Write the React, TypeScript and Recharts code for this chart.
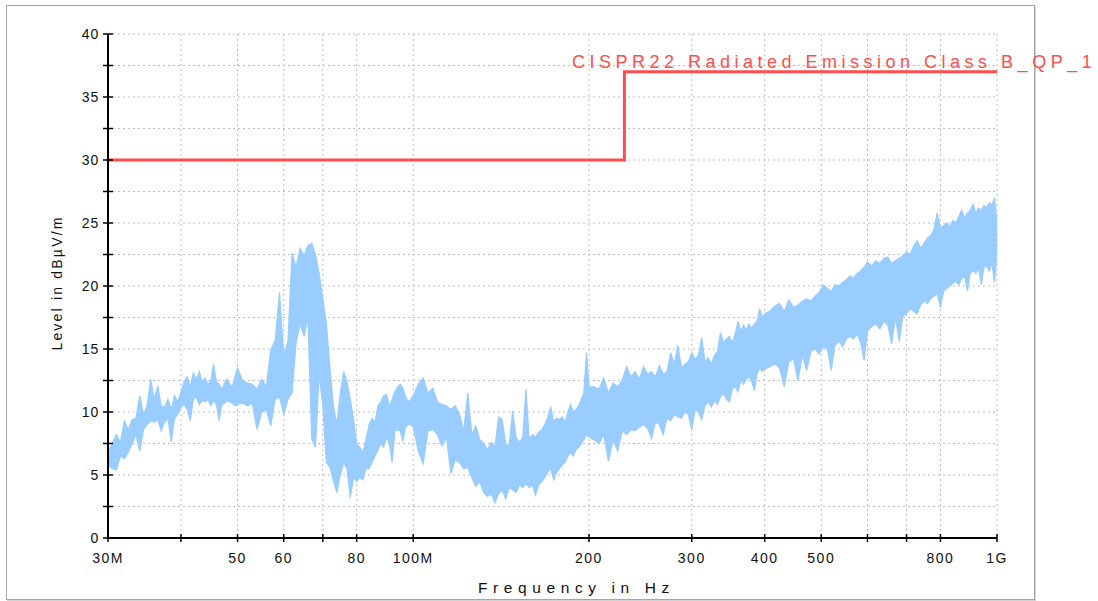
import { ComposedChart, Area, Line, XAxis, YAxis, CartesianGrid } from 'recharts'

// measured trace, split in sweep segments: frequency (MHz), lower and upper edge of the band (dBµV/m)
const freq30to50 = [30, 30.5, 31, 31.5, 32, 32.5, 33, 33.5, 34, 34.5, 35, 35.5, 36, 36.5, 37, 37.5, 38, 38.5, 39, 39.5, 40, 40.5, 41, 41.5, 42, 42.5, 43, 43.5, 44, 44.5, 45, 45.5, 46, 46.5, 47, 47.5, 48, 48.5, 49, 49.5]
const lo30to50 = [5.8, 5.5, 5.4, 6.5, 6.3, 6.8, 7.5, 8.2, 6.9, 8.6, 9.0, 9.3, 9.2, 9.4, 8.5, 9.2, 9.5, 7.6, 9.5, 9.8, 10.4, 10.6, 10.2, 9.3, 11.0, 11.2, 10.6, 10.9, 10.8, 11.0, 10.5, 10.9, 10.6, 9.3, 10.6, 10.7, 10.9, 10.8, 10.7, 10.5]
const hi30to50 = [6.8, 7.5, 8.2, 7.6, 9.3, 8.6, 9.4, 9.5, 11.3, 9.8, 10.5, 12.6, 11.0, 12.1, 10.5, 10.4, 11.0, 10.2, 11.3, 10.8, 11.6, 12.4, 12.8, 12.0, 13.1, 12.6, 13.2, 12.4, 12.7, 12.2, 12.5, 13.8, 12.4, 12.2, 11.8, 12.3, 12.6, 12.2, 12.0, 12.8]

const freq50to100 = [50, 51, 52, 53, 54, 55, 56, 57, 58, 59, 60, 61, 62, 63, 64, 65, 66, 67, 68, 69, 70, 71, 72, 73, 74, 75, 76, 77, 78, 79, 80, 81, 82, 83, 84, 85, 86, 87, 88, 89, 90, 91, 92, 93, 94, 95, 96, 97, 98, 99]
const lo50to100 = [10.6, 10.7, 10.5, 10.7, 8.6, 10.0, 10.2, 8.9, 11.0, 11.2, 9.8, 11.0, 11.5, 15.5, 17.0, 16.0, 17.5, 7.9, 7.2, 13.0, 10.5, 6.0, 5.6, 4.5, 3.6, 5.0, 6.0, 5.5, 3.2, 4.8, 4.5, 4.8, 4.6, 5.5, 5.5, 6.0, 6.5, 7.0, 7.5, 7.2, 8.0, 7.5, 6.0, 8.5, 8.6, 8.5, 7.7, 8.8, 9.0, 9.0]
const hi50to100 = [13.5, 12.5, 12.3, 12.2, 11.8, 12.6, 12.0, 14.9, 15.7, 19.5, 14.5, 15.6, 22.6, 21.5, 23.0, 22.4, 23.2, 23.4, 22.5, 21.0, 19.0, 17.0, 13.5, 10.5, 9.0, 11.5, 13.2, 12.4, 11.0, 9.5, 7.5, 7.2, 6.8, 7.8, 9.0, 9.5, 9.2, 10.5, 10.8, 11.3, 11.4, 10.5, 11.0, 11.6, 12.0, 12.2, 11.9, 11.2, 10.8, 11.0]

const freq100to200 = [100, 102, 104, 106, 108, 110, 112, 114, 116, 118, 120, 122, 124, 126, 128, 130, 132, 134, 136, 138, 140, 142, 144, 146, 148, 150, 152, 154, 156, 158, 160, 162, 164, 166, 168, 170, 172, 174, 176, 178, 180, 182, 184, 186, 188, 190, 192, 194, 196, 198]
const lo100to200 = [8.8, 6.9, 5.9, 8.5, 8.6, 8.2, 7.3, 8.0, 5.1, 6.2, 6.0, 5.5, 5.6, 4.8, 4.1, 4.5, 3.6, 3.3, 3.5, 2.8, 3.5, 3.8, 3.1, 4.0, 3.8, 3.6, 4.2, 4.0, 4.3, 4.0, 4.2, 3.4, 4.2, 4.5, 4.8, 5.2, 5.5, 4.6, 5.2, 5.5, 5.8, 6.0, 6.5, 6.8, 6.5, 7.0, 7.2, 7.5, 7.8, 8.2]
const hi100to200 = [11.3, 12.2, 12.7, 11.5, 11.9, 10.8, 10.6, 10.5, 10.2, 10.5, 9.8, 8.5, 11.5, 8.2, 8.9, 7.8, 7.5, 7.0, 7.6, 7.2, 9.6, 9.4, 7.5, 7.3, 10.1, 8.0, 7.6, 8.0, 11.8, 7.8, 8.2, 8.0, 8.4, 8.6, 9.0, 9.6, 10.4, 9.2, 9.5, 9.4, 9.6, 9.2, 10.0, 10.6, 10.0, 10.2, 10.5, 11.0, 11.5, 14.7]

const freq200to400 = [200, 204, 208, 212, 216, 220, 224, 228, 232, 236, 240, 244, 248, 252, 256, 260, 264, 268, 272, 276, 280, 284, 288, 292, 296, 300, 304, 308, 312, 316, 320, 324, 328, 332, 336, 340, 344, 348, 352, 356, 360, 364, 368, 372, 376, 380, 384, 388, 392, 396]
const lo200to400 = [8.0, 7.8, 7.5, 8.2, 6.1, 7.8, 6.9, 8.5, 8.2, 8.6, 8.5, 8.8, 9.0, 8.7, 7.9, 9.2, 9.0, 8.2, 9.5, 9.3, 9.8, 9.6, 9.5, 10.0, 9.8, 8.6, 10.2, 10.0, 9.4, 10.5, 10.8, 10.4, 10.9, 10.6, 11.2, 11.5, 11.0, 10.8, 11.8, 12.0, 11.6, 12.5, 12.2, 12.6, 12.8, 12.4, 11.7, 13.0, 13.5, 13.2]
const hi200to400 = [12.0, 12.0, 11.8, 12.7, 11.5, 12.3, 12.0, 12.5, 13.6, 12.8, 13.2, 12.6, 13.6, 13.0, 13.2, 12.8, 13.7, 13.0, 13.2, 14.7, 13.8, 15.3, 13.5, 13.8, 14.0, 14.7, 14.2, 14.5, 15.9, 14.0, 14.3, 13.8, 14.5, 14.8, 16.3, 15.5, 15.8, 16.0, 15.5, 16.2, 17.2, 16.4, 16.9, 16.5, 17.0, 16.6, 17.0, 17.2, 18.2, 17.5]

const freq400to600 = [400, 408, 416, 424, 432, 440, 448, 456, 464, 472, 480, 488, 496, 504, 512, 520, 528, 536, 544, 552, 560, 568, 576, 584, 592]
const lo400to600 = [13.4, 13.6, 13.8, 13.5, 12.0, 14.0, 14.2, 12.5, 14.5, 13.3, 14.8, 15.0, 14.6, 15.2, 15.0, 13.3, 15.3, 15.6, 15.2, 15.8, 16.0, 15.8, 16.2, 15.5, 14.1]
const hi400to600 = [17.8, 18.0, 18.4, 18.6, 18.0, 18.9, 18.3, 18.5, 18.8, 19.0, 18.8, 19.2, 19.5, 20.1, 19.8, 19.6, 20.1, 20.0, 20.3, 20.5, 20.8, 20.6, 21.0, 21.2, 21.5]

const freq600to1000 = [600, 610, 620, 630, 640, 650, 660, 670, 680, 690, 700, 710, 720, 730, 740, 750, 760, 770, 780, 790, 800, 810, 820, 830, 840, 850, 860, 870, 880, 890, 900, 910, 920, 930, 940, 950, 960, 970, 980, 990, 1000]
const lo600to1000 = [16.4, 16.8, 17.0, 16.6, 17.2, 16.9, 15.4, 17.5, 15.6, 17.6, 17.8, 18.2, 18.0, 17.8, 18.5, 18.8, 18.6, 19.0, 19.2, 19.4, 18.3, 19.6, 19.8, 20.0, 20.2, 20.4, 20.1, 20.6, 20.8, 19.6, 21.0, 21.2, 21.0, 21.4, 20.1, 21.5, 21.6, 21.2, 21.8, 20.3, 22.5]
const hi600to1000 = [21.9, 21.6, 22.0, 21.8, 22.2, 22.3, 21.8, 22.0, 22.2, 22.4, 22.7, 22.5, 23.2, 23.6, 23.0, 23.4, 23.8, 24.0, 24.5, 25.8, 24.6, 24.8, 25.0, 24.7, 25.2, 25.0, 25.5, 26.0, 25.4, 25.8, 26.0, 26.5, 25.8, 26.2, 26.0, 26.4, 26.2, 26.6, 26.4, 27.0, 25.0]

// CISPR 22 class B quasi-peak limit
const limitFreq = [30, 230, 230, 1000]
const limitLevel = [30, 30, 37, 37]
const limitName = 'CISPR22 Radiated Emission Class B_QP_1'

const xTicks = [30, 40, 50, 60, 70, 80, 100, 200, 300, 400, 500, 600, 700, 800, 1000]
const xTickLabels: Record<number, string> = {
  30: '30M', 50: '50', 60: '60', 80: '80', 100: '100M',
  200: '200', 300: '300', 400: '400', 500: '500', 800: '800', 1000: '1G',
}
const yTicks = [0, 2.5, 5, 7.5, 10, 12.5, 15, 17.5, 20, 22.5, 25, 27.5, 30, 32.5, 35, 37.5, 40]

const freqs = [...freq30to50, ...freq50to100, ...freq100to200, ...freq200to400, ...freq400to600, ...freq600to1000]
const lows = [...lo30to50, ...lo50to100, ...lo100to200, ...lo200to400, ...lo400to600, ...lo600to1000]
const highs = [...hi30to50, ...hi50to100, ...hi100to200, ...hi200to400, ...hi400to600, ...hi600to1000]

const traceData = freqs.map((f, i) => ({ f, band: [lows[i], highs[i]] }))
const limitData = limitFreq.map((f, i) => ({ f, limit: limitLevel[i] }))

const FONT = '"Liberation Sans", Arial, sans-serif'
const RED = '#ff4d4d'

const XTick = (props: any) => {
  const { x, y, payload } = props
  const label = xTickLabels[payload.value] || ''
  return (
    <g>
      <line x1={x} x2={x} y1={y - 4} y2={y + 4} stroke="#000" strokeWidth={1.5} />
      <text x={x} y={y + 25} textAnchor="middle" fontSize={14} fill="#111" fontFamily={FONT} letterSpacing={1.5}>
        {label}
      </text>
    </g>
  )
}

const YTick = (props: any) => {
  const { x, y, payload } = props
  const v = payload.value
  return (
    <g>
      <line x1={x - 5} x2={x + 5} y1={y} y2={y} stroke="#000" strokeWidth={1.5} />
      {v % 5 === 0 && (
        <text x={x - 9} y={y + 5} textAnchor="end" fontSize={14} fill="#111" fontFamily={FONT} letterSpacing={0.8}>
          {v}
        </text>
      )}
    </g>
  )
}

export default function App() {
  return (
    <div style={{ position: 'absolute', left: 0, top: 0, width: 1098, height: 601, background: '#fff', overflow: 'hidden' }}>
      <div
        style={{
          position: 'absolute', left: 6, top: 5, width: 1027, height: 593,
          border: '1px solid #a6a6a6', boxShadow: '1px 1px 0 #d2d2d2',
        }}
      />
      <div style={{ position: 'absolute', left: 0, top: 0 }}>
        <ComposedChart width={1098} height={601} margin={{ top: 34, right: 101, bottom: 33, left: 48 }}>
          <CartesianGrid stroke="#bdbdbd" strokeDasharray="2 3" strokeWidth={1} />
          <XAxis
            dataKey="f"
            type="number"
            scale="log"
            domain={[30, 1000]}
            ticks={xTicks}
            interval={0}
            height={30}
            tickSize={0}
            tickMargin={0}
            tickLine={false}
            tick={<XTick />}
            axisLine={{ stroke: '#000', strokeWidth: 2 }}
            allowDataOverflow
          />
          <YAxis
            type="number"
            domain={[0, 40]}
            ticks={yTicks}
            interval={0}
            width={60}
            tickSize={0}
            tickMargin={0}
            tickLine={false}
            tick={<YTick />}
            axisLine={{ stroke: '#000', strokeWidth: 2 }}
            allowDataOverflow
          />
          <Area
            data={traceData}
            dataKey="band"
            type="linear"
            stroke="#99ccff"
            strokeWidth={1.2}
            fill="#99ccff"
            fillOpacity={1}
            isAnimationActive={false}
            dot={false}
            activeDot={false}
          />
          <Line
            data={limitData}
            dataKey="limit"
            type="linear"
            stroke={RED}
            strokeWidth={3}
            dot={false}
            activeDot={false}
            isAnimationActive={false}
          />
        </ComposedChart>
      </div>
      <svg width={1098} height={601} style={{ position: 'absolute', left: 0, top: 0, pointerEvents: 'none' }}>
        <text x={572} y={67.5} fontSize={18} fill={RED} fontFamily={FONT} letterSpacing={4.5}>
          {limitName}
        </text>
        <text x={478} y={593} fontSize={15.5} fill="#111" fontFamily={FONT} letterSpacing={5.6}>
          Frequency in Hz
        </text>
        <text
          x={0}
          y={0}
          transform="translate(62 283) rotate(-90)"
          textAnchor="middle"
          fontSize={14}
          fill="#111"
          fontFamily={FONT}
          letterSpacing={2.2}
        >
          Level in dBµV/m
        </text>
      </svg>
    </div>
  )
}
